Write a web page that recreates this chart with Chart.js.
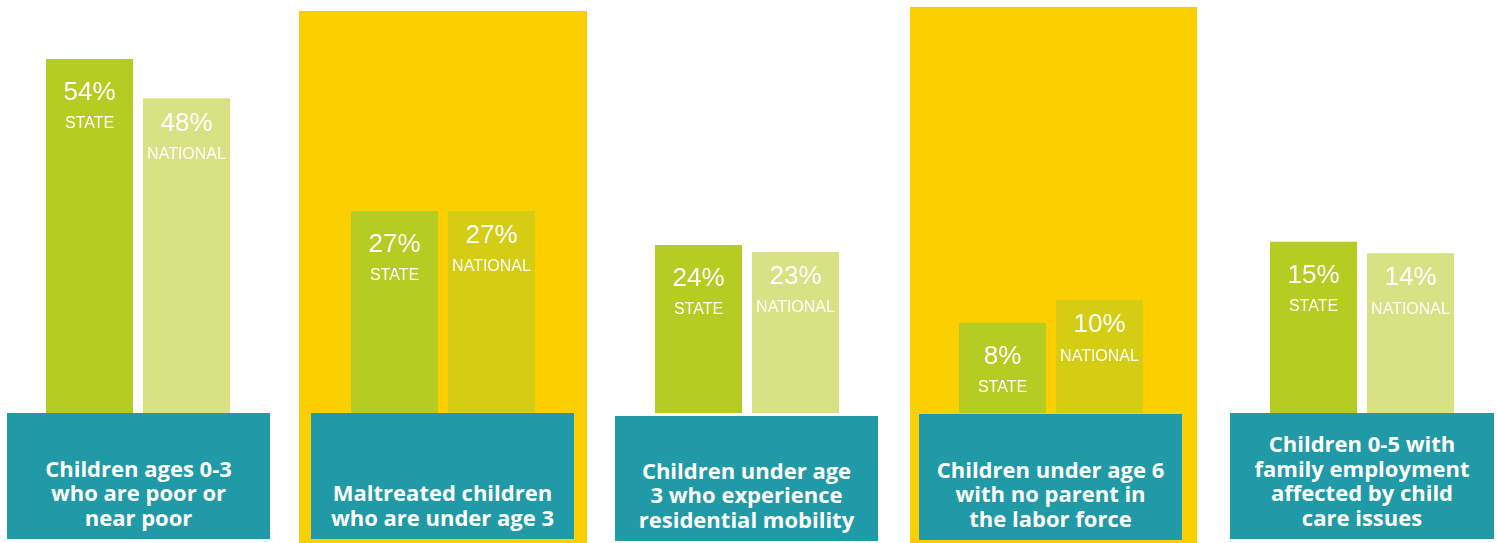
<!DOCTYPE html>
<html>
<head>
<meta charset="utf-8">
<script src="https://cdn.jsdelivr.net/npm/chart.js@4/dist/chart.umd.min.js"></script>
<style>
  html, body { margin: 0; padding: 0; background: #fff; }
  #stage { position: relative; width: 1498px; height: 543px; overflow: hidden; }
  .hilite { position: absolute; background: #fccf00; z-index: 0; }
  canvas { position: absolute; top: 0; z-index: 1; }
  .box {
    position: absolute; z-index: 2; background: #1f9aa6; color: #fff;
    font-family: "Open Sans", sans-serif; font-weight: 700; font-size: 22px;
    line-height: 24.5px; text-align: center;
    display: flex; flex-direction: column; justify-content: flex-end;
    box-sizing: border-box; padding-bottom: 10px;
  }
</style>
</head>
<body>
<div id="stage"></div>
<script>
// data
const categories = [
    ['Children ages 0-3', 'who are poor or', 'near poor'],
    ['Maltreated children', 'who are under age 3'],
    ['Children under age', '3 who experience', 'residential mobility'],
    ['Children under age 6', 'with no parent in', 'the labor force'],
    ['Children 0-5 with', 'family employment', 'affected by child', 'care issues']
];
const seriesLabels = ['STATE', 'NATIONAL'];
const stateValues = [54, 27, 24, 8, 15];
const nationalValues = [48, 27, 23, 10, 14];
// the infographic is not drawn to one scale, so each panel gets its own axis max
const panelScaleMax = [63, 55.2, 59, 36.6, 36.2];
const highlighted = [false, true, false, true, false];

// layout of each panel (px)
const panelLeft = [41, 346, 650, 954, 1265];
const boxes = [
    { x: 7, y: 413, w: 263, h: 126 },
    { x: 311, y: 413, w: 263, h: 126 },
    { x: 615, y: 416, w: 263, h: 125 },
    { x: 919, y: 414, w: 263, h: 126 },
    { x: 1230, y: 413, w: 264, h: 126 }
];
const hiliteBoxes = [null, { x: 299, y: 11, w: 288, h: 532 }, null, { x: 910, y: 7, w: 287, h: 536 }, null];

const stateColor = '#b5cc22';
const nationalColor = 'rgba(181, 204, 34, 0.56)';

const stage = document.getElementById('stage');

const barLabels = {
    id: 'barLabels',
    afterDatasetsDraw(chart) {
        const ctx = chart.ctx;
        const meta = chart.getDatasetMeta(0);
        ctx.save();
        ctx.fillStyle = '#fff';
        ctx.textAlign = 'center';
        ctx.textBaseline = 'middle';
        meta.data.forEach((bar, i) => {
            const v = chart.data.datasets[0].data[i];
            const off = i === 0 ? 34 : 25;
            ctx.font = '26px "Liberation Sans", Arial, sans-serif';
            ctx.fillText(v + '%', bar.x, bar.y + off);
            ctx.font = '16px "Liberation Sans", Arial, sans-serif';
            ctx.fillText(chart.data.labels[i], bar.x, bar.y + off + 31);
        });
        ctx.restore();
    }
};

categories.forEach((cat, i) => {
    if (highlighted[i]) {
        const h = hiliteBoxes[i];
        const d = document.createElement('div');
        d.className = 'hilite';
        d.style.left = h.x + 'px';
        d.style.top = h.y + 'px';
        d.style.width = h.w + 'px';
        d.style.height = h.h + 'px';
        stage.appendChild(d);
    }

    const canvas = document.createElement('canvas');
    canvas.width = 194;
    canvas.height = 413;
    canvas.style.left = panelLeft[i] + 'px';
    stage.appendChild(canvas);

    new Chart(canvas.getContext('2d'), {
        type: 'bar',
        data: {
            labels: seriesLabels,
            datasets: [{
                data: [stateValues[i], nationalValues[i]],
                backgroundColor: [stateColor, nationalColor],
                borderWidth: 0,
                categoryPercentage: 1,
                barPercentage: 87 / 97
            }]
        },
        options: {
            responsive: false,
            animation: false,
            layout: { padding: 0 },
            plugins: { legend: { display: false }, tooltip: { enabled: false } },
            scales: {
                x: { display: false },
                y: { display: false, min: 0, max: panelScaleMax[i] }
            }
        },
        plugins: [barLabels]
    });

    const b = boxes[i];
    const box = document.createElement('div');
    box.className = 'box';
    box.style.left = b.x + 'px';
    box.style.top = b.y + 'px';
    box.style.width = b.w + 'px';
    box.style.height = b.h + 'px';
    box.innerHTML = cat.map(s => '<div>' + s + '</div>').join('');
    stage.appendChild(box);
});
</script>
</body>
</html>
